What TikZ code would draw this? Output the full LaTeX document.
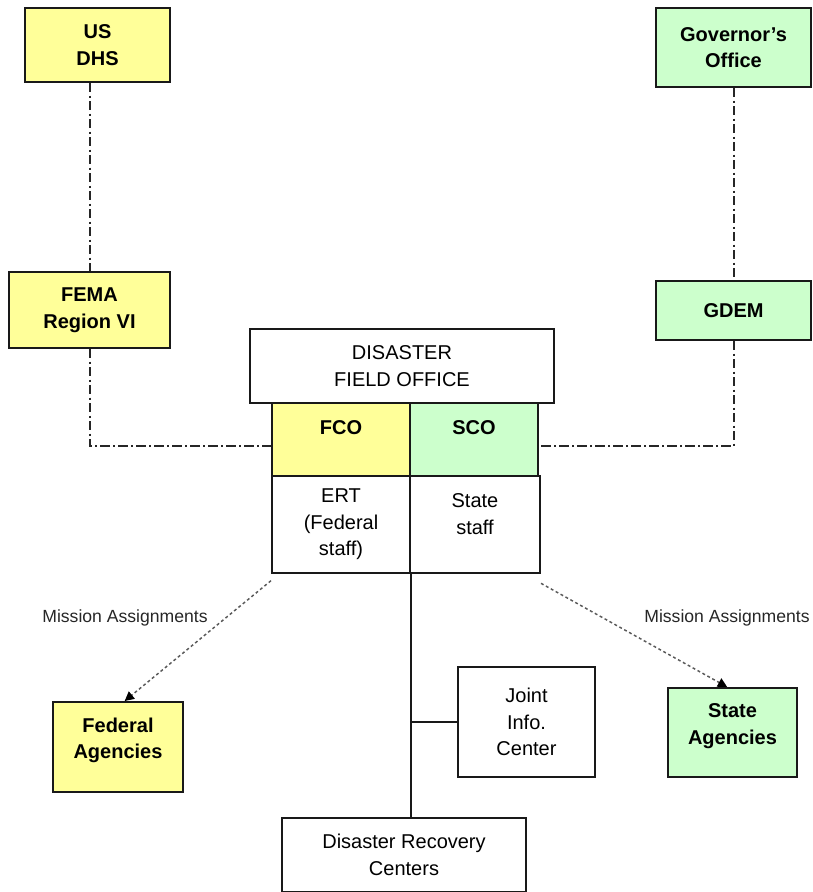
\documentclass[tikz,border=0pt]{standalone}
\usepackage{fontspec}
\setmainfont{Liberation Sans}
\usetikzlibrary{arrows.meta}
\definecolor{fedy}{HTML}{FFFF99}
\definecolor{stg}{HTML}{CCFFCC}
\tikzset{
  box/.style={draw=black!90, line width=1.5pt, align=center, inner sep=0pt,
    font=\fontsize{15}{20}\selectfont},
  bbox/.style={box, font=\fontsize{15}{20}\selectfont\bfseries},
  ddline/.style={line width=1.5pt, black!85, dash pattern=on 7pt off 2.5pt on 1.5pt off 2.5pt},
  solidline/.style={line width=1.4pt, black!90},
  marrow/.style={line width=1.1pt, black!65, dash pattern=on 2.2pt off 2pt,
    -{Triangle[length=7pt,width=7pt,black]}},
  mlabel/.style={font=\fontsize{13.2}{15}\selectfont, text=black!85, inner sep=0pt}
}
\begin{document}
\begin{tikzpicture}[x=0.75pt,y=-0.75pt]
\useasboundingbox (0,0) rectangle (813,892);
% boxes
\node[bbox, fill=fedy, minimum width=108.75pt, minimum height=55.5pt] (dhs) at (97.5,45) {US\\DHS};
\node[bbox, fill=stg, minimum width=116.25pt, minimum height=59.25pt] (gov) at (733.5,47.5) {Governor's\\Office};
\node[bbox, fill=fedy, minimum width=120.75pt, minimum height=57pt] (fema) at (89.5,310) {FEMA\\Region VI};
\node[bbox, fill=stg, minimum width=116.25pt, minimum height=44.25pt] (gdem) at (733.5,310.5) {GDEM};
\node[box, minimum width=228pt, minimum height=55.5pt] (dfo) at (402,366) {DISASTER\\FIELD OFFICE};
\node[box, fill=fedy, minimum width=103.5pt, minimum height=54.75pt,
  label={[yshift=9pt, font=\fontsize{15}{20}\selectfont\bfseries]center:FCO}] (fco) at (341,439.5) {};
\node[box, fill=stg, minimum width=96pt, minimum height=54.75pt,
  label={[yshift=9pt, font=\fontsize{15}{20}\selectfont\bfseries]center:SCO}] (sco) at (474,439.5) {};
\node[box, minimum width=103.5pt, minimum height=72.75pt] (ert) at (341,524.5) {ERT\\(Federal\\staff)};
\node[box, minimum width=97.5pt, minimum height=72.75pt,
  label={[yshift=8pt, align=center, font=\fontsize{15}{20}\selectfont]center:State\\staff}] (sst) at (475,524.5) {};
\node[bbox, fill=fedy, minimum width=97.5pt, minimum height=67.5pt,
  label={[yshift=5pt, align=center, font=\fontsize{15}{20}\selectfont\bfseries]center:Federal\\Agencies}] (fed) at (118,747) {};
\node[bbox, fill=stg, minimum width=96.75pt, minimum height=66.75pt,
  label={[yshift=5pt, align=center, font=\fontsize{15}{20}\selectfont\bfseries]center:State\\Agencies}] (stag) at (732.5,732.5) {};
\node[box, minimum width=102.75pt, minimum height=82.5pt] (jic) at (526.5,722) {Joint\\Info.\\Center};
\node[box, minimum width=183pt, minimum height=55.5pt] (drc) at (404,855) {Disaster Recovery\\Centers};
% dash-dot links
\draw[ddline] (fema.north |- dhs.south) -- (fema.north);
\draw[ddline] (fema.south) |- ([yshift=-5pt]fco.west);
\draw[ddline] (gov.south) -- (gdem.north);
\draw[ddline] (gdem.south) |- ([yshift=-5pt]sco.east);
% solid links
\coordinate (jn) at (jic.west -| ert.south east);
\draw[solidline] (ert.south east) -- (ert.south east |- drc.north);
\draw[solidline] (jn) -- (jic.west);
% mission assignments
\draw[marrow] ([yshift=-5pt]ert.south west) -- ([xshift=5pt]fed.north);
\draw[marrow] ([yshift=-7pt]sst.south east) -- ([xshift=-4pt]stag.north);
\node[mlabel] (ml1) at (125,618) {Mission Assignments};
\node[mlabel] (ml2) at (727,618) {Mission Assignments};
\end{tikzpicture}
\end{document}
